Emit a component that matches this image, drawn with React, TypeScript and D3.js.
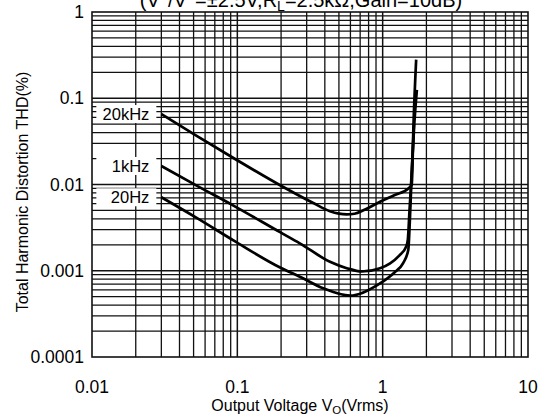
import React from "react";
import * as d3 from "d3";

const W = 555;
const H = 417;

const xTicks = [0.01, 0.1, 1, 10];
const xTickLabels = ["0.01", "0.1", "1", "10"];
const yTicks = [1, 0.1, 0.01, 0.001, 0.0001];
const yTickLabels = ["1", "0.1", "0.01", "0.001", "0.0001"];

// 20kHz
const v20k = [0.03, 0.0525, 0.094, 0.197, 0.333, 0.434, 0.5, 0.566, 0.64, 0.75, 0.959, 1.2, 1.503, 1.585, 1.63, 1.7];
const thd20k = [0.0656, 0.0366, 0.0203, 0.0098, 0.0061, 0.0049, 0.0046, 0.00451, 0.00458, 0.0051, 0.0063, 0.0075, 0.009, 0.0099, 0.05, 0.28];
// 1kHz
const v1k = [0.03, 0.0525, 0.094, 0.197, 0.269, 0.434, 0.566, 0.718, 0.959, 1.125, 1.3, 1.45, 1.49, 1.53, 1.57, 1.65, 1.72];
const thd1k = [0.0164, 0.0097, 0.0057, 0.0028, 0.00208, 0.00127, 0.00107, 0.00098, 0.00107, 0.00122, 0.0015, 0.0019, 0.0023, 0.005, 0.0104, 0.05, 0.125];
// 20Hz
const v20 = [0.03, 0.0525, 0.094, 0.197, 0.269, 0.39, 0.597, 0.959, 1.2, 1.38, 1.5, 1.54, 1.58, 1.64];
const thd20 = [0.00711, 0.0041, 0.00225, 0.00109, 0.000853, 0.000625, 0.000514, 0.000714, 0.00095, 0.00122, 0.00174, 0.004, 0.012, 0.05];

const seriesNames = ["20kHz", "1kHz", "20Hz"];
const seriesV = [v20k, v1k, v20];
const seriesT = [thd20k, thd1k, thd20];

const M = { left: 92, right: 528, top: 12, bottom: 357 };
const FONT = "'Liberation Sans', Arial, sans-serif";

export default function App() {
  const x = d3.scaleLog().domain([0.01, 10]).range([M.left, M.right]);
  const y = d3.scaleLog().domain([0.0001, 1]).range([M.bottom, M.top]);

  const gridX: number[] = [];
  const gridY: number[] = [];
  for (let e = -2; e < 1; e++) for (let k = 2; k <= 9; k++) gridX.push(k * Math.pow(10, e));
  for (let e = -4; e < 0; e++) for (let k = 2; k <= 9; k++) gridY.push(k * Math.pow(10, e));

  const line = d3
    .line<[number, number]>()
    .x((d) => x(d[0]))
    .y((d) => y(d[1]))
    .curve(d3.curveMonotoneX);

  return (
    <svg width={W} height={H} style={{ position: "absolute", left: 0, top: 0, background: "#fff" }} fontFamily={FONT}>
      <rect x={0} y={0} width={W} height={H} fill="#fff" />
      {/* grid */}
      {gridX.map((v, i) => (
        <line key={"gx" + i} x1={x(v)} x2={x(v)} y1={M.top} y2={M.bottom} stroke="#111" strokeWidth={1.3} />
      ))}
      {xTicks.slice(1, 3).map((v, i) => (
        <line key={"mx" + i} x1={x(v)} x2={x(v)} y1={M.top} y2={M.bottom} stroke="#111" strokeWidth={1.5} />
      ))}
      {gridY.map((v, i) => (
        <line key={"gy" + i} x1={M.left} x2={M.right} y1={y(v)} y2={y(v)} stroke="#111" strokeWidth={1.2} />
      ))}
      {yTicks.slice(1, 4).map((v, i) => (
        <line key={"my" + i} x1={M.left} x2={M.right} y1={y(v)} y2={y(v)} stroke="#111" strokeWidth={1.5} />
      ))}
      <rect x={M.left} y={M.top} width={M.right - M.left} height={M.bottom - M.top} fill="none" stroke="#111" strokeWidth={1.6} />

      {/* curve labels with white background */}
      {seriesNames.map((name, i) => {
        const v0 = seriesV[i][0];
        const t0 = seriesT[i][0];
        const cy = y(t0);
        const tx = x(v0) - 12;
        return (
          <g key={"lab" + i}>
            <rect x={tx - 53} y={cy - 9} width={60} height={18} fill="#fff" />
            <text x={tx} y={cy} textAnchor="end" dominantBaseline="central" fontSize={16.5} fill="#000">
              {name}
            </text>
          </g>
        );
      })}

      {/* curves */}
      {seriesNames.map((name, i) => (
        <path
          key={"c" + i}
          d={line(seriesV[i].map((v, j) => [v, seriesT[i][j]] as [number, number])) || ""}
          fill="none"
          stroke="#000"
          strokeWidth={2.7}
          strokeLinejoin="round"
        />
      ))}

      {/* y tick labels */}
      {yTicks.map((v, i) => (
        <text key={"yt" + i} x={84} y={y(v)} textAnchor="end" dominantBaseline="central" fontSize={17.5} fill="#000">
          {yTickLabels[i]}
        </text>
      ))}
      {/* x tick labels */}
      {xTicks.map((v, i) => (
        <text key={"xt" + i} x={x(v)} y={387} textAnchor="middle" dominantBaseline="central" fontSize={17.5} fill="#000">
          {xTickLabels[i]}
        </text>
      ))}

      {/* axis titles */}
      <text x={300} y={411} textAnchor="middle" fontSize={16} fill="#000">
        Output Voltage V<tspan fontSize={11.5} dy={3}>O</tspan>
        <tspan dy={-3}>(Vrms)</tspan>
      </text>
      <text transform="translate(28,192) rotate(-90)" textAnchor="middle" fontSize={16} fill="#000">
        Total Harmonic Distortion THD(%)
      </text>

      {/* title (cropped at top) */}
      <text x={301} y={6.5} textAnchor="middle" fontSize={20} fill="#000">
        (V<tspan fontSize={14} dy={-8}>+</tspan>
        <tspan dy={8}>/V</tspan>
        <tspan fontSize={14} dy={-8}>−</tspan>
        <tspan dy={8}>=±2.5V,R</tspan>
        <tspan fontSize={14} dy={4}>L</tspan>
        <tspan dy={-4}>=2.5kΩ,Gain=10dB)</tspan>
      </text>
    </svg>
  );
}
